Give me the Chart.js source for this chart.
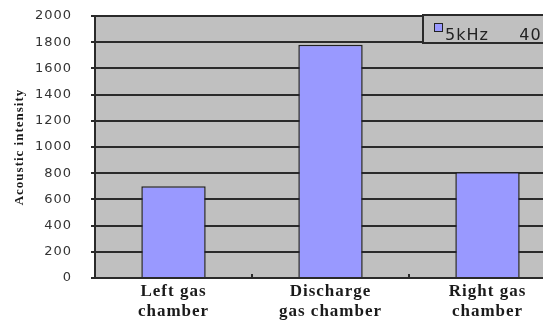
<!DOCTYPE html>
<html>
<head>
<meta charset="utf-8">
<script src="https://cdn.jsdelivr.net/npm/chart.js@4"></script>
<style>
  html, body { margin: 0; padding: 0; background: #fff; overflow: hidden; }
  #wrap { width: 600px; height: 327px; position: relative; }
</style>
</head>
<body>
<div id="wrap"><canvas id="c" width="600" height="327"></canvas></div>
<script>
// Categories (two-line axis labels) and measured acoustic intensity
const categories = [["Left gas", "chamber"], ["Discharge", "gas chamber"], ["Right gas", "chamber"]];
const intensity = [700, 1780, 810];
const seriesLabel = "5kHz     40kV";
const yMin = 0, yMax = 2000, yStep = 200;

const GRID = "#2a2a2a";
const PLOT_BG = "#c0c0c0";
const BAR = "#9999ff";

// Grey plot background, and slightly spaced lettering for all axis text
const plotBackground = {
  id: "plotBackground",
  beforeDraw(chart) {
    const { ctx, chartArea: a } = chart;
    ctx.save();
    ctx.fillStyle = PLOT_BG;
    ctx.fillRect(a.left, a.top, a.right - a.left, a.bottom - a.top);
    ctx.restore();
    ctx.letterSpacing = "1px";
  },
  afterDraw(chart) {
    chart.ctx.letterSpacing = "0px";
  }
};

// Small inward tick marks at the category boundaries on the baseline
const innerTicks = {
  id: "innerTicks",
  afterDatasetsDraw(chart) {
    const { ctx, chartArea: a, scales: { x } } = chart;
    ctx.save();
    ctx.strokeStyle = GRID;
    ctx.lineWidth = 2;
    for (let i = 1; i < categories.length; i++) {
      const px = (x.getPixelForTick(i - 1) + x.getPixelForTick(i)) / 2;
      ctx.beginPath();
      ctx.moveTo(px, a.bottom);
      ctx.lineTo(px, a.bottom - 4);
      ctx.stroke();
    }
    ctx.restore();
  }
};

// Boxed legend in the upper right of the plot
const boxLegend = {
  id: "boxLegend",
  afterDraw(chart) {
    const { ctx, chartArea: a } = chart;
    const ds = chart.data.datasets[0];
    const bx = a.left + 328, by = a.top - 1, bw = 200, bh = 28;
    ctx.save();
    ctx.fillStyle = PLOT_BG;
    ctx.fillRect(bx, by, bw, bh);
    ctx.strokeStyle = GRID;
    ctx.lineWidth = 2;
    ctx.strokeRect(bx, by, bw, bh);
    ctx.fillStyle = ds.backgroundColor;
    ctx.fillRect(bx + 11, by + 8, 8, 8);
    ctx.lineWidth = 1;
    ctx.strokeStyle = "#222";
    ctx.strokeRect(bx + 11.5, by + 8.5, 8, 8);
    ctx.fillStyle = "#222";
    ctx.font = "16px 'DejaVu Sans'";
    ctx.letterSpacing = "1px";
    ctx.textBaseline = "alphabetic";
    ctx.fillText(ds.label, bx + 22, by + 25);
    ctx.restore();
  }
};

new Chart(document.getElementById("c"), {
  type: "bar",
  data: {
    labels: categories,
    datasets: [{
      label: seriesLabel,
      data: intensity,
      backgroundColor: BAR,
      borderColor: "#222",
      borderWidth: 1.5,
      categoryPercentage: 1,
      barPercentage: 0.41
    }]
  },
  options: {
    responsive: false,
    animation: false,
    layout: { padding: { top: 16, right: 34, bottom: 0, left: 0 } },
    plugins: { legend: { display: false }, tooltip: { enabled: false } },
    scales: {
      x: {
        afterFit(s) { s.height = 49; },
        grid: { display: false, drawTicks: false, offset: true },
        border: { display: true, color: GRID, width: 2 },
        ticks: {
          color: "#1a1a1a",
          padding: 4,
          maxRotation: 0,
          autoSkip: false,
          font: { family: "'Liberation Serif'", size: 17, weight: "bold", lineHeight: 1.18 }
        }
      },
      y: {
        min: yMin,
        max: yMax,
        afterFit(s) { s.width = 95; s.paddingTop = 0; s.paddingBottom = 0; },
        grid: { color: GRID, lineWidth: 2, tickLength: 4, drawTicks: true },
        border: { display: true, color: GRID, width: 2 },
        ticks: {
          stepSize: yStep,
          padding: 19,
          color: "#333",
          font: { family: "'DejaVu Sans'", size: 13 },
          callback: v => String(v)
        },
        title: {
          display: true,
          text: "Acoustic intensity",
          color: "#1a1a1a",
          padding: { top: 12, bottom: 0 },
          font: { family: "'Liberation Serif'", size: 13, weight: "bold" }
        }
      }
    }
  },
  plugins: [plotBackground, innerTicks, boxLegend]
});
</script>
</body>
</html>
